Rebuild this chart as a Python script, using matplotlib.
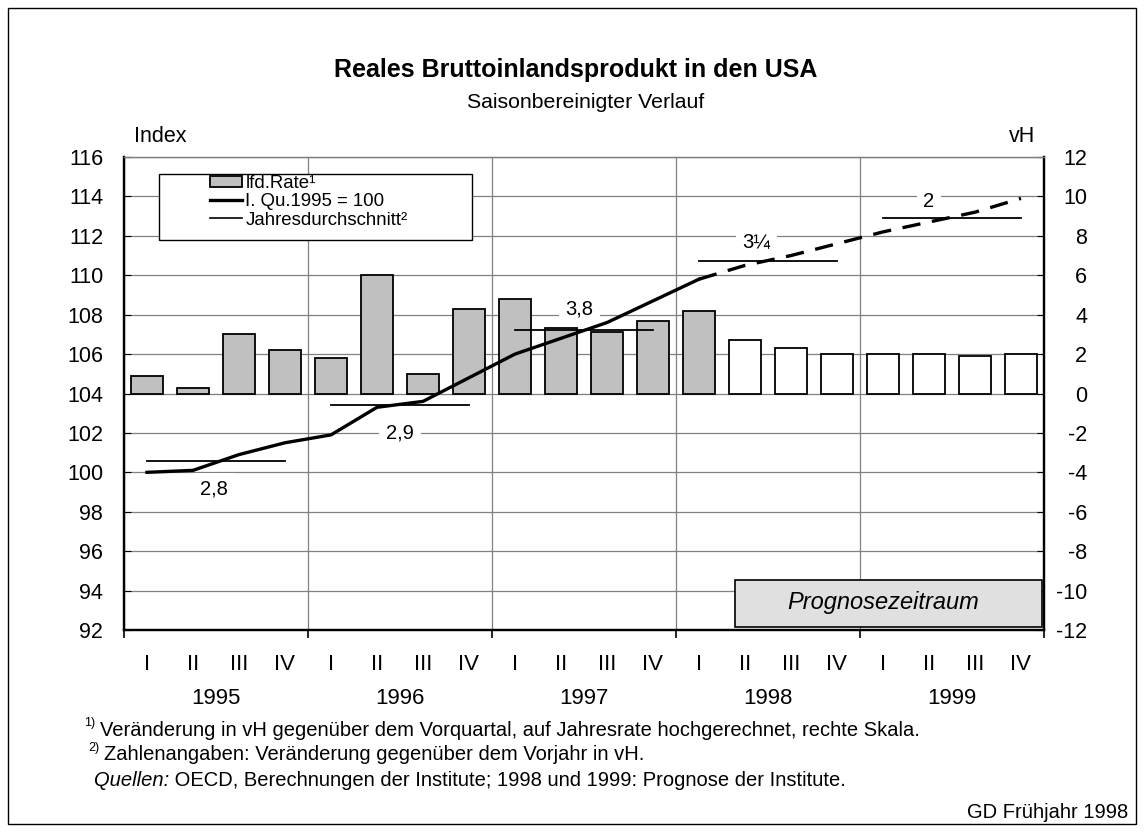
import matplotlib
matplotlib.use("Agg")
import matplotlib.pyplot as plt
from matplotlib.patches import Rectangle, Patch
from matplotlib.lines import Line2D
import numpy as np

plt.rcParams['font.family'] = ['Liberation Sans', 'DejaVu Sans']
plt.rcParams['axes.unicode_minus'] = False

# ---------------- data ----------------
years = ['1995', '1996', '1997', '1998', '1999']
quarters = ['I', 'II', 'III', 'IV']
# quarterly change, annualised, vH (right scale)
rate = [0.9, 0.3, 3.0, 2.2,
        1.8, 6.0, 1.0, 4.3,
        4.8, 3.3, 3.1, 3.7,
        4.2, 2.7, 2.3, 2.0,
        2.0, 2.0, 1.9, 2.0]
# index, I. Qu. 1995 = 100 (left scale)
index = [100.0, 100.1, 100.9, 101.5,
         101.9, 103.3, 103.6, 104.8,
         106.0, 106.8, 107.6, 108.7,
         109.8, 110.5, 111.0, 111.6,
         112.2, 112.7, 113.2, 113.9]
# annual averages on index scale and their labels
annual_avg = [100.6, 103.4, 107.2, 110.7, 112.9]
annual_lbl = ['2,8', '2,9', '3,8', '3¼', '2']
n_actual = 13  # quarters of observed data (up to I/1998)

# ---------------- figure ----------------
W, H = 1144, 832
fig = plt.figure(figsize=(W / 100, H / 100), dpi=100)
L, R, T, B = 124, 1044, 157, 630
ax = fig.add_axes([L / W, 1 - B / H, (R - L) / W, (B - T) / H])
axi = ax.twinx()

x = np.arange(len(rate))
grey = '#808080'
FS = 15.5

# right scale (vH) on ax
ax.set_ylim(-12, 12)
ax.set_xlim(-0.5, len(rate) - 0.5)
colors = ['#c0c0c0' if i < n_actual else 'white' for i in x]
ax.bar(x, rate, width=0.68, color=colors, edgecolor='black', linewidth=1.3, zorder=3)
ax.yaxis.tick_right()
ax.set_yticks(np.arange(-12, 13, 2))
ax.grid(axis='y', color=grey, linewidth=0.9, zorder=0)
ax.set_axisbelow(True)
# year boundaries
bounds = np.arange(-0.5, len(rate), 4)
ax.set_xticks(bounds)
ax.set_xticklabels([])
ax.grid(axis='x', which='major', color=grey, linewidth=0.9)
ax.tick_params(axis='x', which='major', direction='out', length=6, width=1.2, color='black')
ax.set_xticks(x, [quarters[i % 4] for i in x], minor=True)
ax.tick_params(axis='x', which='minor', length=0, pad=17, labelsize=16)
ax.tick_params(axis='y', direction='in', length=5, labelsize=FS, pad=31)
for lbl in ax.get_yticklabels():
    lbl.set_horizontalalignment('right')

# left scale (index)
axi.set_ylim(92, 116)
axi.yaxis.tick_left()
axi.set_yticks(np.arange(92, 117, 2))
axi.tick_params(axis='y', direction='in', length=5, labelsize=FS, pad=15)
axi.plot(x[:n_actual], index[:n_actual], color='black', lw=2.4, zorder=5)
dl, = axi.plot(x[n_actual - 1:], index[n_actual - 1:], color='black', lw=2.4, zorder=5)
dl.set_dashes((5.5, 3.5))

for a in (ax, axi):
    for s in ['left', 'right', 'bottom']:
        a.spines[s].set_linewidth(1.6)
    a.spines['top'].set_color(grey)
    a.spines['top'].set_linewidth(0.9)

# annual averages
for k, v in enumerate(annual_avg):
    axi.plot([4 * k, 4 * k + 3], [v, v], color='black', lw=1.3, zorder=4)

lbl_pos = [(1.45, -1.45), (5.5, -1.4), (9.4, 1.1), (13.25, 1.0), (17.0, 0.85)]
for k, (lx, dy) in enumerate(lbl_pos):
    axi.text(lx, annual_avg[k] + dy, annual_lbl[k], ha='center', va='center',
             fontsize=14.5, zorder=3,
             bbox=dict(facecolor='white', edgecolor='none', pad=5))

# year labels
for k, yv in enumerate(years):
    ax.text(4 * k + 1.5, -0.1445, yv, transform=ax.get_xaxis_transform(),
            ha='center', va='center', fontsize=16)

# forecast box
ax.add_patch(Rectangle((12.78, -11.83), 6.68, 2.39, facecolor='#e0e0e0',
                       edgecolor='black', lw=1.2, zorder=4))
ax.text(16.0, -10.6, 'Prognosezeitraum', ha='center', va='center',
        fontsize=17, style='italic', zorder=5)

# legend (frame drawn separately)
axi.add_patch(Rectangle((0.038, 0.8245), 0.340, 0.1395, transform=axi.transAxes,
                        facecolor='white', edgecolor='black', lw=1.0, zorder=6))
handles = [Patch(facecolor='#c0c0c0', edgecolor='black', lw=1.3),
           Line2D([], [], color='black', lw=2.4),
           Line2D([], [], color='black', lw=1.2)]
leg = axi.legend(handles, ['lfd.Rate¹', 'I. Qu.1995 = 100', 'Jahresdurchschnitt²'],
                 loc='upper left', bbox_to_anchor=(0.0935, 0.962), fontsize=13.4,
                 frameon=False, borderpad=0, labelspacing=0.07, handlelength=1.7,
                 handleheight=0.6, handletextpad=0.2, borderaxespad=0)
leg.set_zorder(7)

# titles
fig.text(576 / W, 1 - 70 / H, 'Reales Bruttoinlandsprodukt in den USA',
         ha='center', va='center', fontsize=18, fontweight='bold')
fig.text(586 / W, 1 - 102 / H, 'Saisonbereinigter Verlauf', ha='center',
         va='center', fontsize=15.3)
fig.text(160 / W, 1 - 137 / H, 'Index', ha='center', va='center', fontsize=FS)
fig.text(1022 / W, 1 - 137 / H, 'vH', ha='center', va='center', fontsize=FS)

# footnotes
FN = 14.5
fig.text(84 / W, 1 - 723 / H, '1)', fontsize=9, va='center')
fig.text(100 / W, 1 - 730 / H, 'Veränderung in vH gegenüber dem Vorquartal, auf Jahresrate hochgerechnet, rechte Skala.',
         fontsize=FN, va='center')
fig.text(88 / W, 1 - 748 / H, '2)', fontsize=9, va='center')
fig.text(104 / W, 1 - 755 / H, 'Zahlenangaben: Veränderung gegenüber dem Vorjahr in vH.',
         fontsize=FN, va='center')
q = fig.text(94 / W, 1 - 780 / H, 'Quellen:', fontsize=FN, style='italic', va='center')
fig.add_artist(plt.Annotation(' OECD, Berechnungen der Institute; 1998 und 1999: Prognose der Institute.',
                              xy=(1, 0.5), xycoords=q, va='center', ha='left', fontsize=FN))
fig.text(1128 / W, 1 - 813 / H, 'GD Frühjahr 1998', ha='right', va='center', fontsize=FN)

# outer frame
fig.add_artist(Rectangle((8 / W, 8 / H), (W - 16) / W, (H - 16) / H, transform=fig.transFigure,
                         fill=False, edgecolor='black', lw=1.0))

fig.savefig('out.png', dpi=100)
